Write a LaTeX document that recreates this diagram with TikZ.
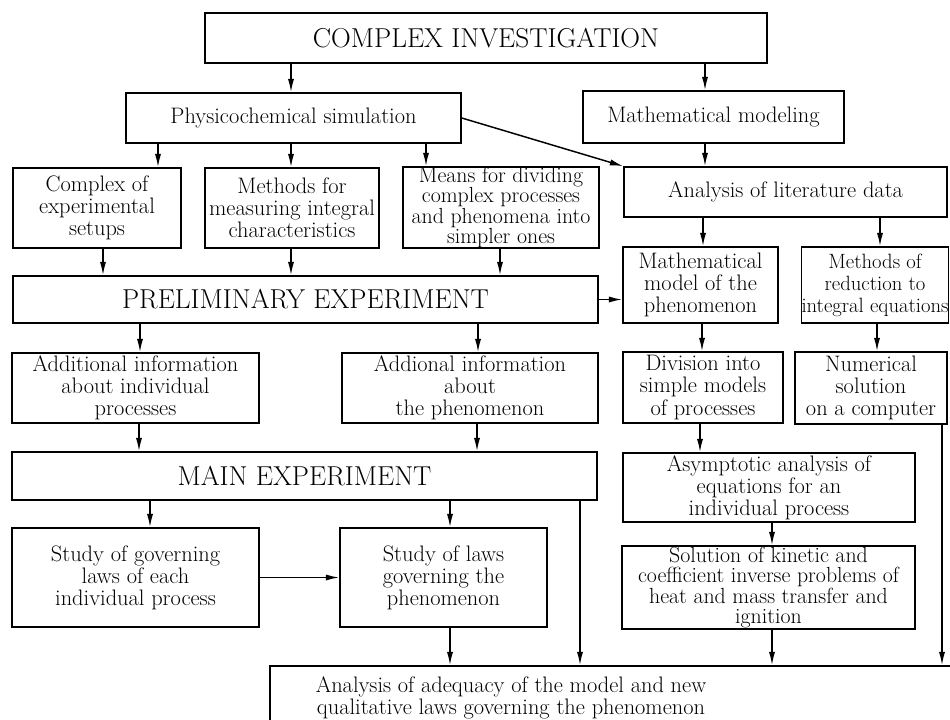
\documentclass[tikz,border=0pt]{standalone}
\usetikzlibrary{arrows.meta,calc}
\newcommand\tx{\fontsize{16.8}{16.6}\selectfont}
\newcommand\txf{\fontsize{16.4}{15.4}\selectfont}
\newcommand\txb{\fontsize{20.5}{22}\selectfont}
\newcommand\mkbox[7]{%
  \pgfmathsetmacro\bw{(#4-#2)*0.75}%
  \pgfmathsetmacro\bh{(#5-#3)*0.75}%
  \node[box,font=#6,minimum width=\bw pt,minimum height=\bh pt] (#1) at ({(#2+#4)/2},{(#3+#5)/2}) {#7};}
\begin{document}
\begin{tikzpicture}[x=0.75pt,y=-0.75pt,
  box/.style={draw,line width=1.2pt,inner sep=0pt,align=center},
  arr/.style={line width=1.1pt,-{Latex[length=10pt,width=4.6pt]}},
  ln/.style={line width=1.1pt}]
\useasboundingbox (0,0) rectangle (950,719);
\clip (0,0) rectangle (950,719);
\fill[white] (0,0) rectangle (950,719);
% helper x positions
\foreach \xx in {103,139,140,150,158,291,426,450,477,478,500,580,700,702,703,705,772,877,880,942}
  {\coordinate (x\xx) at (\xx,0);}
% boxes
\mkbox{title}{205}{13}{767}{63}{\txb}{COMPLEX INVESTIGATION}
\mkbox{phys}{126}{93}{461}{143}{\tx}{Physicochemical simulation}
\mkbox{mmod}{583}{91}{844}{143}{\tx}{Mathematical modeling}
\mkbox{cplx}{13}{168}{181}{248}{\tx}{Complex of\\experimental\\setups}
\mkbox{meth}{205}{168}{379}{248}{\tx}{Methods for\\measuring integral\\characteristics}
\mkbox{means}{403}{167}{599}{248}{\txf}{Means for dividing\\complex processes\\and phenomena into\\simpler ones}
\mkbox{lit}{624}{167}{947}{217}{\tx}{Analysis of literature data}
\mkbox{prelim}{13}{276}{598}{323}{\txb}{PRELIMINARY EXPERIMENT}
\mkbox{mphen}{623}{247}{778}{323}{\tx}{Mathematical\\model of the\\phenomenon}
\mkbox{mred}{803}{247}{947}{323}{\fontsize{15.5}{16.6}\selectfont}{Methods of\\reduction to\\integral equations}
\mkbox{add1}{12}{353}{259}{423}{\tx}{Additional information\\about individual\\processes}
\mkbox{add2}{342}{353}{598}{423}{\tx}{Addional information\\about\\the phenomenon}
\mkbox{div}{623}{352}{783}{423}{\tx}{Division into\\simple models\\of processes}
\mkbox{num}{795}{352}{947}{424}{\tx}{Numerical\\solution\\on a computer}
\mkbox{main}{12}{452}{597}{500}{\txb}{MAIN EXPERIMENT}
\mkbox{asym}{623}{453}{915}{522}{\tx}{Asymptotic analysis of\\equations for an\\individual process}
\mkbox{stud1}{12}{528}{259}{627}{\tx}{Study of governing\\laws of each\\individual process}
\mkbox{stud2}{340}{528}{547}{627}{\tx}{Study of laws\\governing the\\phenomenon}
\mkbox{sol}{622}{546}{915}{629}{\txf}{Solution of kinetic and\\coefficient inverse problems of\\heat and mass transfer and\\ignition}
\mkbox{bot}{270}{666}{1000}{800}{\tx}{}
\node[font=\tx,align=center] (bottxt) at (511,698) {Analysis of adequacy of the model and new\\qualitative laws governing the phenomenon};
% connectors
\draw[arr] (title.south -| x291) -- (phys.north -| x291);
\draw[arr] (title.south -| x705) -- (mmod.north -| x705);
\draw[arr] (phys.south -| x158) -- (cplx.north -| x158);
\draw[arr] (phys.south -| x291) -- (meth.north -| x291);
\draw[arr] (phys.south -| x426) -- (means.north -| x426);
\draw[arr] (phys.east) -- (lit.north west);
\draw[arr] (mmod.south -| x705) -- (lit.north -| x705);
\draw[arr] (cplx.south -| x103) -- (prelim.north -| x103);
\draw[arr] (meth.south -| x291) -- (prelim.north -| x291);
\draw[arr] (means.south -| x500) -- (prelim.north -| x500);
\draw[arr] (lit.south -| x703) -- (mphen.north -| x703);
\draw[arr] (lit.south -| x880) -- (mred.north -| x880);
\draw[arr] (prelim.east) -- (prelim.east -| mphen.west);
\draw[arr] (prelim.south -| x140) -- (add1.north -| x140);
\draw[arr] (prelim.south -| x478) -- (add2.north -| x478);
\draw[arr] (mphen.south -| x702) -- (div.north -| x702);
\draw[arr] (mred.south -| x877) -- (num.north -| x877);
\draw[arr] (add1.south -| x139) -- (main.north -| x139);
\draw[arr] (add2.south -| x477) -- (main.north -| x477);
\draw[arr] (div.south -| x700) -- (asym.north -| x700);
\draw[arr] (main.south -| x150) -- (stud1.north -| x150);
\draw[arr] (main.south -| x450) -- (stud2.north -| x450);
\draw[arr] (stud1.east) -- (stud1.east -| stud2.west);
\draw[arr] (asym.south -| x772) -- (sol.north -| x772);
\draw[arr] (stud2.south -| x450) -- (bot.north -| x450);
\draw[arr] (main.south -| x580) -- (bot.north -| x580);
\draw[arr] (sol.south -| x772) -- (bot.north -| x772);
\draw[arr] (num.south -| x942) -- (bot.north -| x942);
\end{tikzpicture}
\end{document}
